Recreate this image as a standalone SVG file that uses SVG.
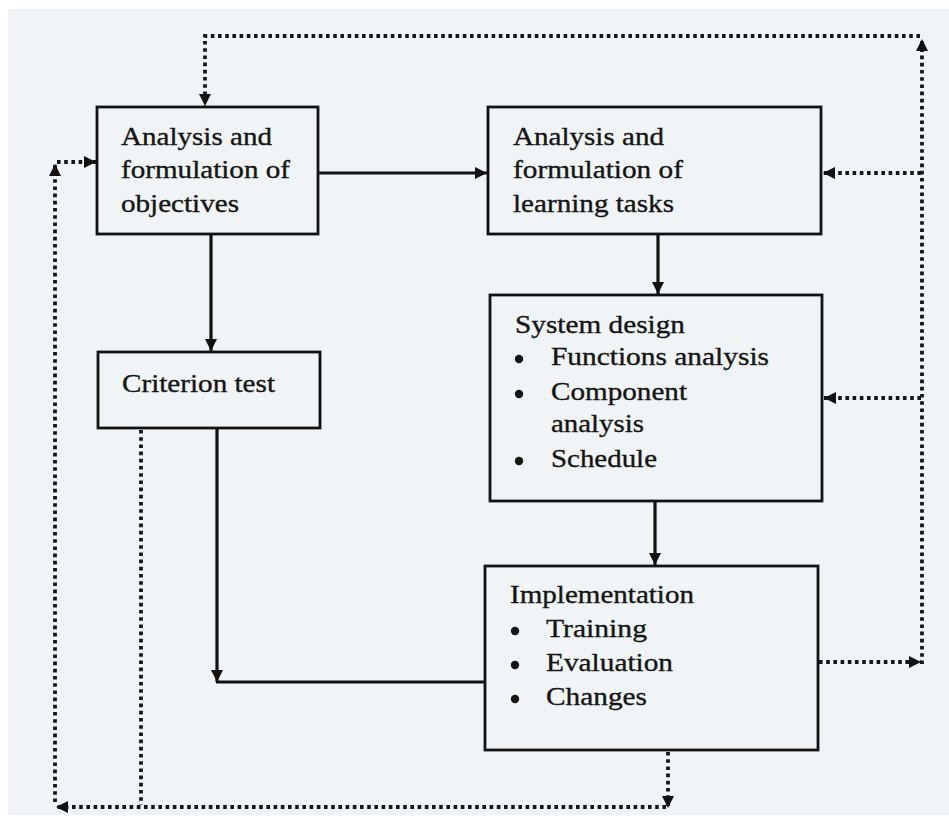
<svg xmlns="http://www.w3.org/2000/svg" width="949" height="818" viewBox="0 0 949 818">
  <style>
    .box { fill: none; stroke: #121212; stroke-width: 2.8; }
    .lbl { font-family: "Liberation Serif", "Times New Roman", serif; font-size: 26px; fill: #141414; stroke: #141414; stroke-width: 0.35; }
    .solid { fill: none; stroke: #121212; stroke-width: 3.2; }
    .dot { fill: none; stroke: #161616; stroke-width: 3.8; stroke-dasharray: 3.6 3.6; }
    .bullet { fill: #141414; }
  </style>
  <defs>
    <marker id="arrow" viewBox="0 0 10 10" refX="10" refY="5" markerWidth="12" markerHeight="12" markerUnits="userSpaceOnUse" orient="auto">
      <path d="M0,0 L10,5 L0,10 z" fill="#121212"/>
    </marker>
  </defs>

  <!-- page -->
  <rect x="0" y="0" width="949" height="818" fill="#ffffff"/>
  <rect x="8" y="9" width="941" height="806" fill="#f1f4f6"/>

  <!-- connectors -->
  <g id="connectors">
    <!-- main flow -->
    <line class="solid" x1="318" y1="173" x2="487" y2="173" marker-end="url(#arrow)"/>
    <line class="solid" x1="211" y1="235" x2="211" y2="351" marker-end="url(#arrow)"/>
    <line class="solid" x1="658" y1="235" x2="658" y2="294" marker-end="url(#arrow)"/>
    <line class="solid" x1="655" y1="502" x2="655" y2="565" marker-end="url(#arrow)"/>
    <line class="solid" x1="217" y1="429" x2="217" y2="682" marker-end="url(#arrow)"/>
    <line class="solid" x1="216" y1="682" x2="486" y2="682"/>

    <!-- feedback loop, right side -->
    <line class="dot" x1="819" y1="662" x2="921" y2="662" marker-end="url(#arrow)"/>
    <line class="dot" x1="922" y1="664" x2="922" y2="39" marker-end="url(#arrow)"/>
    <polyline class="dot" points="920,36 205,36 205,106" marker-end="url(#arrow)"/>
    <line class="dot" x1="921" y1="173" x2="823" y2="173" marker-end="url(#arrow)"/>
    <line class="dot" x1="921" y1="398" x2="824" y2="398" marker-end="url(#arrow)"/>

    <!-- feedback loop, bottom and left side -->
    <line class="dot" x1="668" y1="752" x2="668" y2="808" marker-end="url(#arrow)"/>
    <line class="dot" x1="666" y1="807" x2="56" y2="807" marker-end="url(#arrow)"/>
    <line class="dot" x1="141" y1="430" x2="141" y2="805"/>
    <line class="dot" x1="55" y1="802" x2="55" y2="164" marker-end="url(#arrow)"/>
    <line class="dot" x1="57" y1="162" x2="96" y2="162" marker-end="url(#arrow)"/>
  </g>

  <g id="objectives">
    <rect class="box" x="97" y="107" width="221" height="127"/>
    <text class="lbl" x="121" y="145" textLength="151" lengthAdjust="spacingAndGlyphs">Analysis and</text>
    <text class="lbl" x="121" y="178" textLength="169" lengthAdjust="spacingAndGlyphs">formulation of</text>
    <text class="lbl" x="121" y="212" textLength="118" lengthAdjust="spacingAndGlyphs">objectives</text>
  </g>

  <g id="learning-tasks">
    <rect class="box" x="488" y="107" width="333" height="127"/>
    <text class="lbl" x="513" y="145" textLength="151" lengthAdjust="spacingAndGlyphs">Analysis and</text>
    <text class="lbl" x="513" y="178" textLength="170" lengthAdjust="spacingAndGlyphs">formulation of</text>
    <text class="lbl" x="513" y="212" textLength="161" lengthAdjust="spacingAndGlyphs">learning tasks</text>
  </g>

  <g id="criterion-test">
    <rect class="box" x="98" y="352" width="222" height="76"/>
    <text class="lbl" x="122" y="392" textLength="153" lengthAdjust="spacingAndGlyphs">Criterion test</text>
  </g>

  <g id="system-design">
    <rect class="box" x="490" y="295" width="332" height="206"/>
    <text class="lbl" x="515" y="333" textLength="170" lengthAdjust="spacingAndGlyphs">System design</text>
    <circle class="bullet" cx="519" cy="359" r="4.2"/>
    <text class="lbl" x="551" y="365" textLength="218" lengthAdjust="spacingAndGlyphs">Functions analysis</text>
    <circle class="bullet" cx="519" cy="394" r="4.2"/>
    <text class="lbl" x="551" y="400" textLength="136" lengthAdjust="spacingAndGlyphs">Component</text>
    <text class="lbl" x="551" y="432" textLength="93" lengthAdjust="spacingAndGlyphs">analysis</text>
    <circle class="bullet" cx="519" cy="461" r="4.2"/>
    <text class="lbl" x="551" y="467" textLength="106" lengthAdjust="spacingAndGlyphs">Schedule</text>
  </g>

  <g id="implementation">
    <rect class="box" x="485" y="566" width="333" height="184"/>
    <text class="lbl" x="510" y="603" textLength="184" lengthAdjust="spacingAndGlyphs">Implementation</text>
    <circle class="bullet" cx="515" cy="631" r="4.2"/>
    <text class="lbl" x="546" y="637" textLength="101" lengthAdjust="spacingAndGlyphs">Training</text>
    <circle class="bullet" cx="515" cy="665" r="4.2"/>
    <text class="lbl" x="546" y="671" textLength="127" lengthAdjust="spacingAndGlyphs">Evaluation</text>
    <circle class="bullet" cx="515" cy="699" r="4.2"/>
    <text class="lbl" x="546" y="705" textLength="101" lengthAdjust="spacingAndGlyphs">Changes</text>
  </g>
</svg>
